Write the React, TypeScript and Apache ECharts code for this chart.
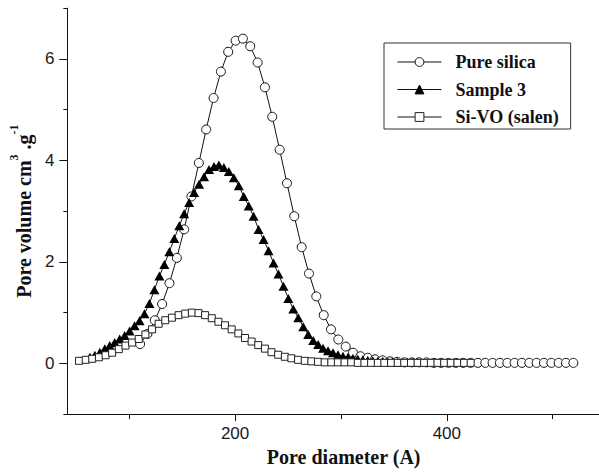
import React, { useEffect, useRef } from "react";
import * as echarts from "echarts";

// ---- axis ticks ----
const xTickValues = [200, 400];
const xMinorTickValues = [100, 300, 500];
const yTickValues = [0, 2, 4, 6];
const yMinorTickValues = [-1, 1, 3, 5, 7];

// ---- series: Pure silica (open circles) ----
const pureSilicaX = [
  110.3, 117.2, 124.2, 131.1, 138.0, 145.0, 151.9, 158.8, 165.8, 172.7,
  179.7, 186.6, 193.5, 200.5, 207.4, 214.3, 221.3, 228.2, 235.1, 242.1,
  249.0, 255.9, 262.9, 269.8, 276.7, 283.7, 290.6, 297.5, 304.5, 311.4,
  318.4, 325.3, 332.2, 339.2, 346.1, 353.0, 360.0, 366.9, 373.8, 380.8,
  387.7, 394.6, 401.6, 408.5, 415.4, 422.4, 429.3, 436.3, 443.2, 450.1,
  457.1, 464.0, 470.9, 477.9, 484.8, 491.7, 498.7, 505.6, 512.5, 519.5,
];
const pureSilicaY = [
  0.38, 0.58, 0.85, 1.17, 1.58, 2.08, 2.64, 3.29, 3.95, 4.61,
  5.23, 5.75, 6.14, 6.36, 6.40, 6.25, 5.93, 5.44, 4.86, 4.21,
  3.55, 2.90, 2.29, 1.77, 1.32, 0.95, 0.67, 0.47, 0.33, 0.21,
  0.14, 0.11, 0.08, 0.06, 0.04, 0.03, 0.02, 0.02, 0.02, 0.02,
  0.01, 0.01, 0.01, 0.01, 0.01, 0.01, 0.01, 0.01, 0.01, 0.01,
  0.01, 0.01, 0.01, 0.01, 0.01, 0.01, 0.01, 0.01, 0.01, 0.01,
];

// ---- series: Sample 3 (filled triangles) ----
const sample3X = [
  62.9, 67.6, 72.3, 77.0, 81.6, 86.3, 91.0, 95.7, 100.4, 105.1,
  109.8, 114.4, 119.1, 123.8, 128.5, 133.2, 137.9, 142.6, 147.3, 151.9,
  156.6, 161.3, 166.0, 170.7, 175.4, 180.1, 184.7, 189.4, 194.1, 198.8,
  203.5, 208.2, 212.9, 217.5, 222.2, 226.9, 231.6, 236.3, 241.0, 245.7,
  250.3, 255.0, 259.7, 264.4, 269.1, 273.8, 278.5, 283.1, 287.8, 292.5,
  297.2, 301.9, 306.6, 311.3, 315.9, 320.6, 325.3, 330.0, 334.7, 339.4,
  344.1, 348.7, 353.4, 358.1, 362.8, 367.5, 372.2,
];
const sample3Y = [
  0.12, 0.16, 0.22, 0.29, 0.35, 0.41, 0.48, 0.55, 0.64, 0.74,
  0.84, 0.98, 1.18, 1.45, 1.72, 1.95, 2.20, 2.46, 2.71, 2.95,
  3.17, 3.37, 3.53, 3.68, 3.82, 3.88, 3.91, 3.86, 3.78, 3.66,
  3.50, 3.29, 3.10, 2.90, 2.64, 2.44, 2.22, 1.98, 1.76, 1.52,
  1.28, 1.07, 0.90, 0.72, 0.57, 0.45, 0.37, 0.30, 0.25, 0.21,
  0.17, 0.14, 0.12, 0.10, 0.08, 0.07, 0.06, 0.05, 0.04, 0.04,
  0.03, 0.03, 0.02, 0.02, 0.02, 0.02, 0.02,
];

// ---- series: Si-VO (salen) (open squares) ----
const siVoX = [
  52.6, 58.9, 65.1, 71.4, 77.7, 83.9, 90.2, 96.5, 102.8, 109.0,
  115.3, 121.6, 127.8, 134.1, 140.4, 146.7, 152.9, 159.2, 165.5, 171.7,
  178.0, 184.3, 190.5, 196.8, 203.1, 209.4, 215.6, 221.9, 228.2, 234.4,
  240.7, 247.0, 253.2, 259.5, 265.8, 272.1, 278.3, 284.6, 290.9, 297.1,
  303.4, 309.7, 315.9, 322.2, 328.5, 334.8, 341.0, 347.3, 353.6, 359.8,
  366.1, 372.4, 378.6, 384.9, 391.2, 397.5, 403.7, 410.0, 416.3, 422.5,
];
const siVoY = [
  0.05, 0.07, 0.09, 0.12, 0.16, 0.21, 0.28, 0.35, 0.41, 0.48,
  0.57, 0.67, 0.78, 0.85, 0.90, 0.95, 0.98, 1.00, 0.99, 0.95,
  0.89, 0.82, 0.75, 0.67, 0.59, 0.50, 0.43, 0.36, 0.29, 0.22,
  0.17, 0.13, 0.10, 0.07, 0.05, 0.04, 0.03, 0.02, 0.02, 0.02,
  0.02, 0.02, 0.01, 0.01, 0.01, 0.01, 0.01, 0.01, 0.01, 0.01,
  0.01, 0.01, 0.01, 0.01, 0.01, 0.01, 0.01, 0.01, 0.01, 0.01,
];

const legendNames = ["Pure silica", "Sample 3", "Si-VO (salen)"];

const X_MIN = 41.6;
const X_MAX = 543.7;
const Y_MIN = -1;
const Y_MAX = 7;

const serif = "'Liberation Serif', 'Times New Roman', serif";
const sans = "'Liberation Sans', Arial, sans-serif";

const zip = (xs: number[], ys: number[]) => xs.map((x, i) => [x, ys[i]]);

function buildOption(): any {
  const axisColor = "#111";
  return {
    animation: false,
    backgroundColor: "#ffffff",
    grid: { left: 63.3, top: 8.2, right: 0, bottom: 54.9, containLabel: false },
    xAxis: [
      {
        type: "value",
        min: X_MIN,
        max: X_MAX,
        position: "bottom",
        axisLine: { show: true, onZero: false, lineStyle: { color: axisColor, width: 1 } },
        axisTick: { show: true, inside: false, length: 7, customValues: xTickValues, lineStyle: { color: axisColor, width: 1 } },
        axisLabel: { show: true, customValues: xTickValues, margin: 11, fontSize: 17, fontFamily: sans, color: "#1a1a1a" },
        splitLine: { show: false },
        name: "Pore diameter (A)",
        nameLocation: "middle",
        nameGap: 32,
        nameTextStyle: { fontFamily: serif, fontWeight: "bold", fontSize: 20, color: "#111", padding: [0, 0, 0, 21] },
      },
      {
        type: "value",
        min: X_MIN,
        max: X_MAX,
        position: "bottom",
        axisLine: { show: false, onZero: false },
        axisTick: { show: true, inside: false, length: 5, customValues: xMinorTickValues, lineStyle: { color: axisColor, width: 1 } },
        axisLabel: { show: false },
        splitLine: { show: false },
      },
    ],
    yAxis: [
      {
        type: "value",
        min: Y_MIN,
        max: Y_MAX,
        position: "left",
        axisLine: { show: true, onZero: false, lineStyle: { color: axisColor, width: 1 } },
        axisTick: { show: true, inside: false, length: 8, customValues: yTickValues, lineStyle: { color: axisColor, width: 1 } },
        axisLabel: { show: true, customValues: yTickValues, margin: 13, fontSize: 17, fontFamily: sans, color: "#1a1a1a" },
        splitLine: { show: false },
        name: "{a|Pore volume cm}{s|3}{a| .g}{s|-1}",
        nameLocation: "middle",
        nameGap: 25,
        nameTextStyle: {
          fontFamily: serif,
          fontWeight: "bold",
          fontSize: 20,
          color: "#111",
          rich: {
            a: { fontFamily: serif, fontWeight: "bold", fontSize: 20, color: "#111", lineHeight: 32 },
            s: { fontFamily: serif, fontWeight: "bold", fontSize: 12, color: "#111", lineHeight: 32, verticalAlign: "top" },
          },
        },
      },
      {
        type: "value",
        min: Y_MIN,
        max: Y_MAX,
        position: "left",
        axisLine: { show: false, onZero: false },
        axisTick: { show: true, inside: false, length: 4, customValues: yMinorTickValues, lineStyle: { color: axisColor, width: 1 } },
        axisLabel: { show: false },
        splitLine: { show: false },
      },
    ],
    legend: {
      orient: "vertical",
      left: 384,
      top: 43,
      data: legendNames,
      itemWidth: 44,
      itemHeight: 11,
      itemGap: 9.5,
      padding: [10, 12, 3, 13],
      borderColor: "#333",
      borderWidth: 1,
      selectedMode: false,
      textStyle: { fontFamily: serif, fontWeight: "bold", fontSize: 18, color: "#111", padding: [0, 0, 0, 9] },
      lineStyle: { width: 1 },
      itemStyle: { borderWidth: 1 },
    },
    series: [
      {
        name: legendNames[0],
        type: "line",
        xAxisIndex: 0,
        yAxisIndex: 0,
        data: zip(pureSilicaX, pureSilicaY),
        symbol: "circle",
        symbolSize: 9,
        showAllSymbol: true,
        silent: true,
        itemStyle: { color: "#ffffff", borderColor: "#111", borderWidth: 1 },
        lineStyle: { color: "#111", width: 1 },
        emphasis: { disabled: true },
      },
      {
        name: legendNames[1],
        type: "line",
        xAxisIndex: 0,
        yAxisIndex: 0,
        data: zip(sample3X, sample3Y),
        symbol: "triangle",
        symbolSize: [10, 9],
        showAllSymbol: true,
        silent: true,
        itemStyle: { color: "#000", borderColor: "#000", borderWidth: 0 },
        lineStyle: { color: "#111", width: 1 },
        emphasis: { disabled: true },
      },
      {
        name: legendNames[2],
        type: "line",
        xAxisIndex: 0,
        yAxisIndex: 0,
        data: zip(siVoX, siVoY),
        symbol: "rect",
        symbolSize: 7,
        showAllSymbol: true,
        silent: true,
        itemStyle: { color: "#ffffff", borderColor: "#222", borderWidth: 1 },
        lineStyle: { color: "#111", width: 1 },
        emphasis: { disabled: true },
      },
    ],
  };
}

export default function App() {
  const ref = useRef<HTMLDivElement>(null);
  useEffect(() => {
    if (!ref.current) return;
    const chart = echarts.init(ref.current, null, { renderer: "svg" });
    chart.setOption(buildOption());
    return () => chart.dispose();
  }, []);
  return (
    <div
      ref={ref}
      style={{ position: "absolute", left: 0, top: 0, width: 599, height: 472, background: "#fff" }}
    />
  );
}
